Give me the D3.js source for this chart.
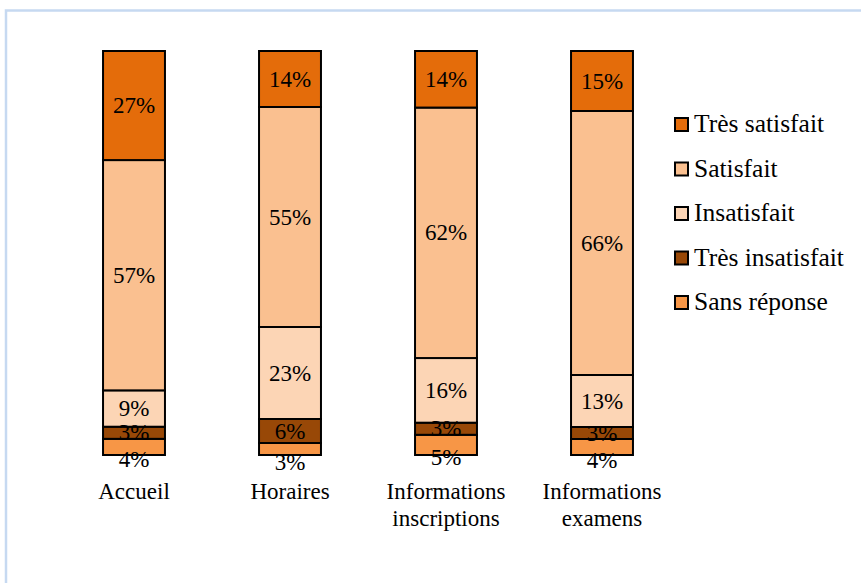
<!DOCTYPE html>
<html>
<head>
<meta charset="utf-8">
<script src="https://cdn.jsdelivr.net/npm/d3@7"></script>
</head>
<body style="margin:0;background:#fff">
<div id="chart"></div>
<script>
const categories = ["Accueil", "Horaires", "Informations inscriptions", "Informations examens"];
const seriesNames = ["Très satisfait", "Satisfait", "Insatisfait", "Très insatisfait", "Sans réponse"];
const tresSatisfait = [27, 14, 14, 15];
const satisfait = [57, 55, 62, 66];
const insatisfait = [9, 23, 16, 13];
const tresInsatisfait = [3, 6, 3, 3];
const sansReponse = [4, 3, 5, 4];

const colors = {
  "Très satisfait": "#E46C0A",
  "Satisfait": "#FAC090",
  "Insatisfait": "#FCD5B5",
  "Très insatisfait": "#984807",
  "Sans réponse": "#F79646"
};

const serifFont = '"Liberation Serif", serif';
const width = 861, height = 583;

const rows = categories.map((c, i) => ({
  cat: c,
  "Très satisfait": tresSatisfait[i],
  "Satisfait": satisfait[i],
  "Insatisfait": insatisfait[i],
  "Très insatisfait": tresInsatisfait[i],
  "Sans réponse": sansReponse[i]
}));

// bottom to top
const stackKeys = seriesNames.slice().reverse();
const stacked = d3.stack().keys(stackKeys).offset(d3.stackOffsetExpand)(rows);

const x = d3.scaleBand()
  .domain(categories)
  .range([56, 680])
  .paddingInner(0.603)
  .paddingOuter(0.3015);

const y = d3.scaleLinear()
  .domain([0, 1])
  .range([455, 51]);

const svg = d3.select("#chart").append("svg")
  .attr("width", width)
  .attr("height", height)
  .style("font-family", serifFont, "important");

// outer frame
svg.append("rect")
  .attr("x", 6).attr("y", 10.5)
  .attr("width", 900).attr("height", 700)
  .attr("fill", "none")
  .attr("stroke", "#C6D9F1")
  .attr("stroke-width", 2.5);

const layers = svg.selectAll("g.layer")
  .data(stacked)
  .join("g")
  .attr("class", "layer")
  .attr("fill", d => colors[d.key]);

layers.selectAll("rect")
  .data(d => d)
  .join("rect")
  .attr("x", d => x(d.data.cat))
  .attr("y", d => y(d[1]))
  .attr("width", x.bandwidth())
  .attr("height", d => y(d[0]) - y(d[1]))
  .attr("stroke", "#000")
  .attr("stroke-width", 2);

// value labels, straight under the svg
const labelData = stacked.flatMap(layer => layer.map(d => ({
  key: layer.key, cat: d.data.cat, v: d.data[layer.key], y0: d[0], y1: d[1]
})));

svg.selectAll("text.value")
  .data(labelData)
  .join("text")
  .attr("class", "value")
  .attr("x", d => x(d.cat) + x.bandwidth() / 2)
  .attr("y", d => (y(d.y0) + y(d.y1)) / 2 + (d.key === "Sans réponse" ? 13 : 0) + 7.5)
  .attr("text-anchor", "middle")
  .style("font-family", serifFont, "important")
  .style("font-size", "23px")
  .style("fill", "#000")
  .text(d => d.v + "%");

// category axis
const xAxis = svg.append("g")
  .attr("transform", "translate(0,478)")
  .call(d3.axisBottom(x).tickSize(0).tickPadding(0))
  .attr("font-family", null);
xAxis.select(".domain").remove();
xAxis.selectAll("text")
  .style("font-family", serifFont, "important")
  .style("font-size", "23px")
  .style("fill", "#000")
  .attr("dy", 0)
  .attr("y", 21)
  .each(function(d) {
    const t = d3.select(this);
    const words = d.split(" ");
    t.text(null);
    words.forEach((w, i) => {
      t.append("tspan").attr("x", 0).attr("dy", i === 0 ? 0 : 27).text(w);
    });
  });

// legend
svg.selectAll("rect.key")
  .data(seriesNames)
  .join("rect")
  .attr("class", "key")
  .attr("x", 675).attr("y", (d, i) => 118 + i * 44.5)
  .attr("width", 13).attr("height", 13)
  .attr("fill", d => colors[d])
  .attr("stroke", "#000")
  .attr("stroke-width", 2);

svg.selectAll("text.key")
  .data(seriesNames)
  .join("text")
  .attr("class", "key")
  .attr("x", 694).attr("y", (d, i) => 132 + i * 44.5)
  .style("font-family", serifFont, "important")
  .style("font-size", "25.5px")
  .style("fill", "#000")
  .text(d => d);
</script>
</body>
</html>
